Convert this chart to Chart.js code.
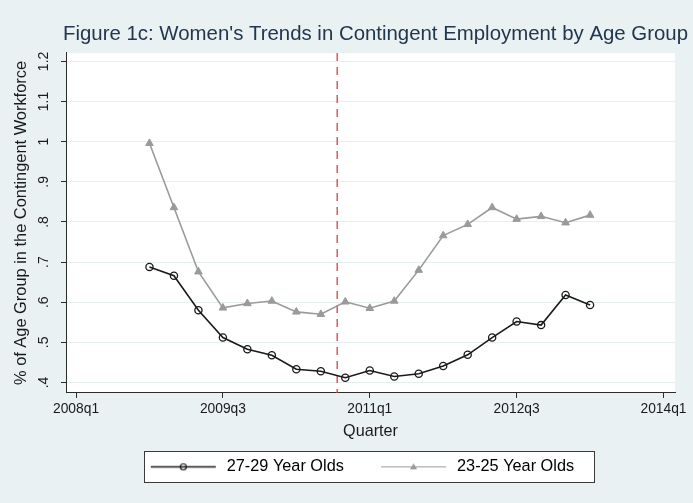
<!DOCTYPE html>
<html>
<head>
<meta charset="utf-8">
<script src="https://cdn.jsdelivr.net/npm/chart.js@4.4.1/dist/chart.umd.min.js"></script>
<style>
html, body { margin: 0; padding: 0; background: #eaf1f3; }
#wrap { width: 693px; height: 503px; }
canvas { display: block; }
</style>
</head>
<body>
<div id="wrap"><canvas id="c" width="693" height="503"></canvas></div>
<script>
// ---------------- data ----------------
const quarters = ["2008q4","2009q1","2009q2","2009q3","2009q4","2010q1","2010q2","2010q3","2010q4",
                  "2011q1","2011q2","2011q3","2011q4","2012q1","2012q2","2012q3","2012q4","2013q1","2013q2"];
const women2729 = [0.688,0.666,0.580,0.512,0.483,0.468,0.433,0.428,0.412,
                   0.430,0.415,0.422,0.441,0.469,0.512,0.552,0.543,0.618,0.593];
const women2325 = [0.996,0.836,0.676,0.586,0.597,0.603,0.576,0.570,0.601,
                   0.585,0.603,0.680,0.766,0.794,0.836,0.807,0.814,0.798,0.817];
const seriesLabels = ["27-29 Year Olds", "23-25 Year Olds"];
const xTickLabels = ["2008q1","2009q3","2011q1","2012q3","2014q1"];
const yTickLabels = [".4",".5",".6",".7",".8",".9","1","1.1","1.2"];
const policyLineQuarter = 10.67; // quarters after 2008q1 (dashed reference line)

// ---------------- helpers ----------------
const BASE_YEAR = 2008;
function quarterIndex(q) {
  const m = /^(\d{4})q(\d)$/.exec(q);
  return (parseInt(m[1], 10) - BASE_YEAR) * 4 + (parseInt(m[2], 10) - 1);
}
function formatQuarter(v) {
  const i = Math.round(v);
  return (BASE_YEAR + Math.floor(i / 4)) + "q" + ((i % 4 + 4) % 4 + 1);
}
function formatStata(v) {
  const s = String(Math.round(v * 10) / 10);
  return s.startsWith("0.") ? s.slice(1) : s;
}
const xTickValues = xTickLabels.map(quarterIndex);
const yTickValues = yTickLabels.map(parseFloat);

const FONT = "'Liberation Sans', Arial, Helvetica, sans-serif";
Chart.defaults.font.family = FONT;

// legend symbol (line with marker), drawn asymmetrically inside its canvas
const SYM_W = 94, SYM_H = 15, SYM_L = 28, SYM_R = 93;
const LEGEND_BOX_W = 97.7;
const LEGEND_SHIFT = 3.5;
const LEGEND_FRAME_H = 31;
function makeLegendSymbol(kind, color, lw) {
  const c = document.createElement('canvas');
  c.width = SYM_W; c.height = SYM_H;
  const g = c.getContext('2d');
  const cy = SYM_H / 2, cx = (SYM_L + SYM_R) / 2;
  g.strokeStyle = color; g.lineWidth = lw;
  g.beginPath(); g.moveTo(SYM_L, cy); g.lineTo(SYM_R, cy); g.stroke();
  if (kind === 'circle') {
    g.lineWidth = 1.2;
    g.beginPath(); g.arc(cx, cy, 3, 0, Math.PI * 2); g.stroke();
  } else {
    g.fillStyle = color;
    g.beginPath(); g.moveTo(cx, cy - 3.6); g.lineTo(cx + 3.6, cy + 2.6); g.lineTo(cx - 3.6, cy + 2.6); g.closePath(); g.fill();
  }
  return c;
}
const legendSymbols = [makeLegendSymbol('circle', '#1a1a1a', 1.4), makeLegendSymbol('triangle', '#9a9a9a', 1.2)];

// ---------------- plugins ----------------
const stataBackground = {
  id: 'stataBackground',
  afterLayout(chart) {
    const lg = chart.legend;
    if (lg) { lg.left += LEGEND_SHIFT; lg.right += LEGEND_SHIFT; }
  },
  beforeDraw(chart) {
    const { ctx, chartArea: a } = chart;
    ctx.save();
    ctx.fillStyle = '#ffffff';
    ctx.fillRect(a.left, a.top, a.right - a.left, a.bottom - a.top);
    const lg = chart.legend;
    if (lg && lg.legendHitBoxes && lg.legendHitBoxes.length > 1) {
      const hb = lg.legendHitBoxes;
      const left = Math.round(hb[0].left + LEGEND_BOX_W / 2 - (SYM_W / 2 - SYM_L) - 7) + 0.5;
      const right = Math.round(hb[1].left + hb[1].width + 20) + 0.5;
      const top = Math.round(lg.top) + 0.5;
      const bottom = top + LEGEND_FRAME_H;
      ctx.fillStyle = '#ffffff';
      ctx.fillRect(left, top, right - left, bottom - top);
      ctx.strokeStyle = '#3a3a3a';
      ctx.lineWidth = 1;
      ctx.strokeRect(left, top, right - left, bottom - top);
    }
    ctx.restore();
  }
};
const policyLine = {
  id: 'policyLine',
  beforeDatasetsDraw(chart) {
    const { ctx, chartArea: a, scales } = chart;
    const x = scales.x.getPixelForValue(policyLineQuarter);
    ctx.save();
    ctx.strokeStyle = 'rgba(218,70,70,0.9)';
    ctx.lineWidth = 1.5;
    ctx.setLineDash([8, 6]);
    ctx.beginPath(); ctx.moveTo(x, a.top); ctx.lineTo(x, a.bottom); ctx.stroke();
    ctx.restore();
  }
};

// ---------------- chart ----------------
const toPoints = vals => quarters.map((q, i) => ({ x: quarterIndex(q), y: vals[i] }));

new Chart(document.getElementById('c'), {
  type: 'line',
  data: {
    datasets: [
      {
        label: seriesLabels[0],
        data: toPoints(women2729),
        borderColor: '#1a1a1a', borderWidth: 1.6, tension: 0,
        pointStyle: 'circle', pointRadius: 3.6, pointBorderWidth: 1.3,
        pointBorderColor: '#1a1a1a', pointBackgroundColor: 'rgba(0,0,0,0)'
      },
      {
        label: seriesLabels[1],
        data: toPoints(women2325),
        borderColor: '#9a9a9a', borderWidth: 1.6, tension: 0,
        pointStyle: 'triangle', pointRadius: 4.4, pointBorderWidth: 1,
        pointBorderColor: '#9a9a9a', pointBackgroundColor: '#9a9a9a'
      }
    ]
  },
  options: {
    responsive: false,
    animation: false,
    devicePixelRatio: 1,
    events: [],
    layout: { padding: { top: 0, right: 5, bottom: 18, left: 0 } },
    plugins: {
      title: {
        display: true,
        text: "Figure 1c: Women's Trends in Contingent Employment by Age Group",
        color: '#22364d',
        font: { size: 20.4, weight: 'normal', family: FONT },
        padding: { top: 22, bottom: 6.5 },
        align: 'end',
        fullSize: true
      },
      legend: {
        position: 'bottom',
        align: 'center',
        labels: {
          usePointStyle: true,
          pointStyleWidth: LEGEND_BOX_W,
          padding: 7.35,
          color: '#1a1a1a',
          font: { size: 16.3, family: FONT },
          generateLabels(chart) {
            return chart.data.datasets.map((ds, i) => ({
              text: ds.label, datasetIndex: i, hidden: false,
              pointStyle: legendSymbols[i], rotation: 0,
              lineWidth: 0, fillStyle: 'rgba(0,0,0,0)', strokeStyle: 'rgba(0,0,0,0)'
            }));
          }
        }
      },
      tooltip: { enabled: false }
    },
    scales: {
      x: {
        type: 'linear',
        position: 'bottom',
        min: -0.41,
        max: 24.47,
        afterBuildTicks(axis) { axis.ticks = xTickValues.map(v => ({ value: v })); },
        afterFit(axis) { axis.height = 58.4; },
        ticks: {
          callback: v => formatQuarter(v),
          autoSkip: false, maxRotation: 0, minRotation: 0,
          padding: 3, color: '#1a1a1a', font: { size: 13.8, family: FONT }
        },
        grid: { drawOnChartArea: false, drawTicks: true, tickLength: 5, tickColor: '#2b2b2b', tickWidth: 1 },
        border: { display: true, color: '#2b2b2b', width: 1 },
        title: {
          display: true, text: 'Quarter', color: '#1a1a1a',
          font: { size: 16.2, family: FONT }, padding: { top: 0, bottom: 9.6 }
        }
      },
      y: {
        type: 'linear',
        position: 'left',
        min: 0.374,
        max: 1.221,
        afterBuildTicks(axis) { axis.ticks = yTickValues.map(v => ({ value: v })); },
        afterFit(axis) { axis.width = 66; },
        ticks: {
          callback: v => formatStata(v),
          autoSkip: false, minRotation: 90, maxRotation: 90, crossAlign: 'center',
          padding: 6.8, color: '#1a1a1a', font: { size: 14, family: FONT }
        },
        grid: { color: '#e6eef0', lineWidth: 1, drawTicks: true, tickLength: 5, tickColor: '#2b2b2b', tickWidth: 1 },
        border: { display: true, color: '#2b2b2b', width: 1 },
        title: {
          display: true, text: '% of Age Group in the Contingent Workforce', color: '#1a1a1a',
          font: { size: 16.4, family: FONT }, padding: { top: 11.2, bottom: 0 }
        }
      },
      margin: {
        type: 'linear',
        position: 'right',
        display: true,
        afterFit(axis) { axis.width = 13; },
        ticks: { display: false },
        grid: { display: false, drawTicks: false },
        border: { display: false }
      }
    }
  },
  plugins: [stataBackground, policyLine]
});
</script>
</body>
</html>
